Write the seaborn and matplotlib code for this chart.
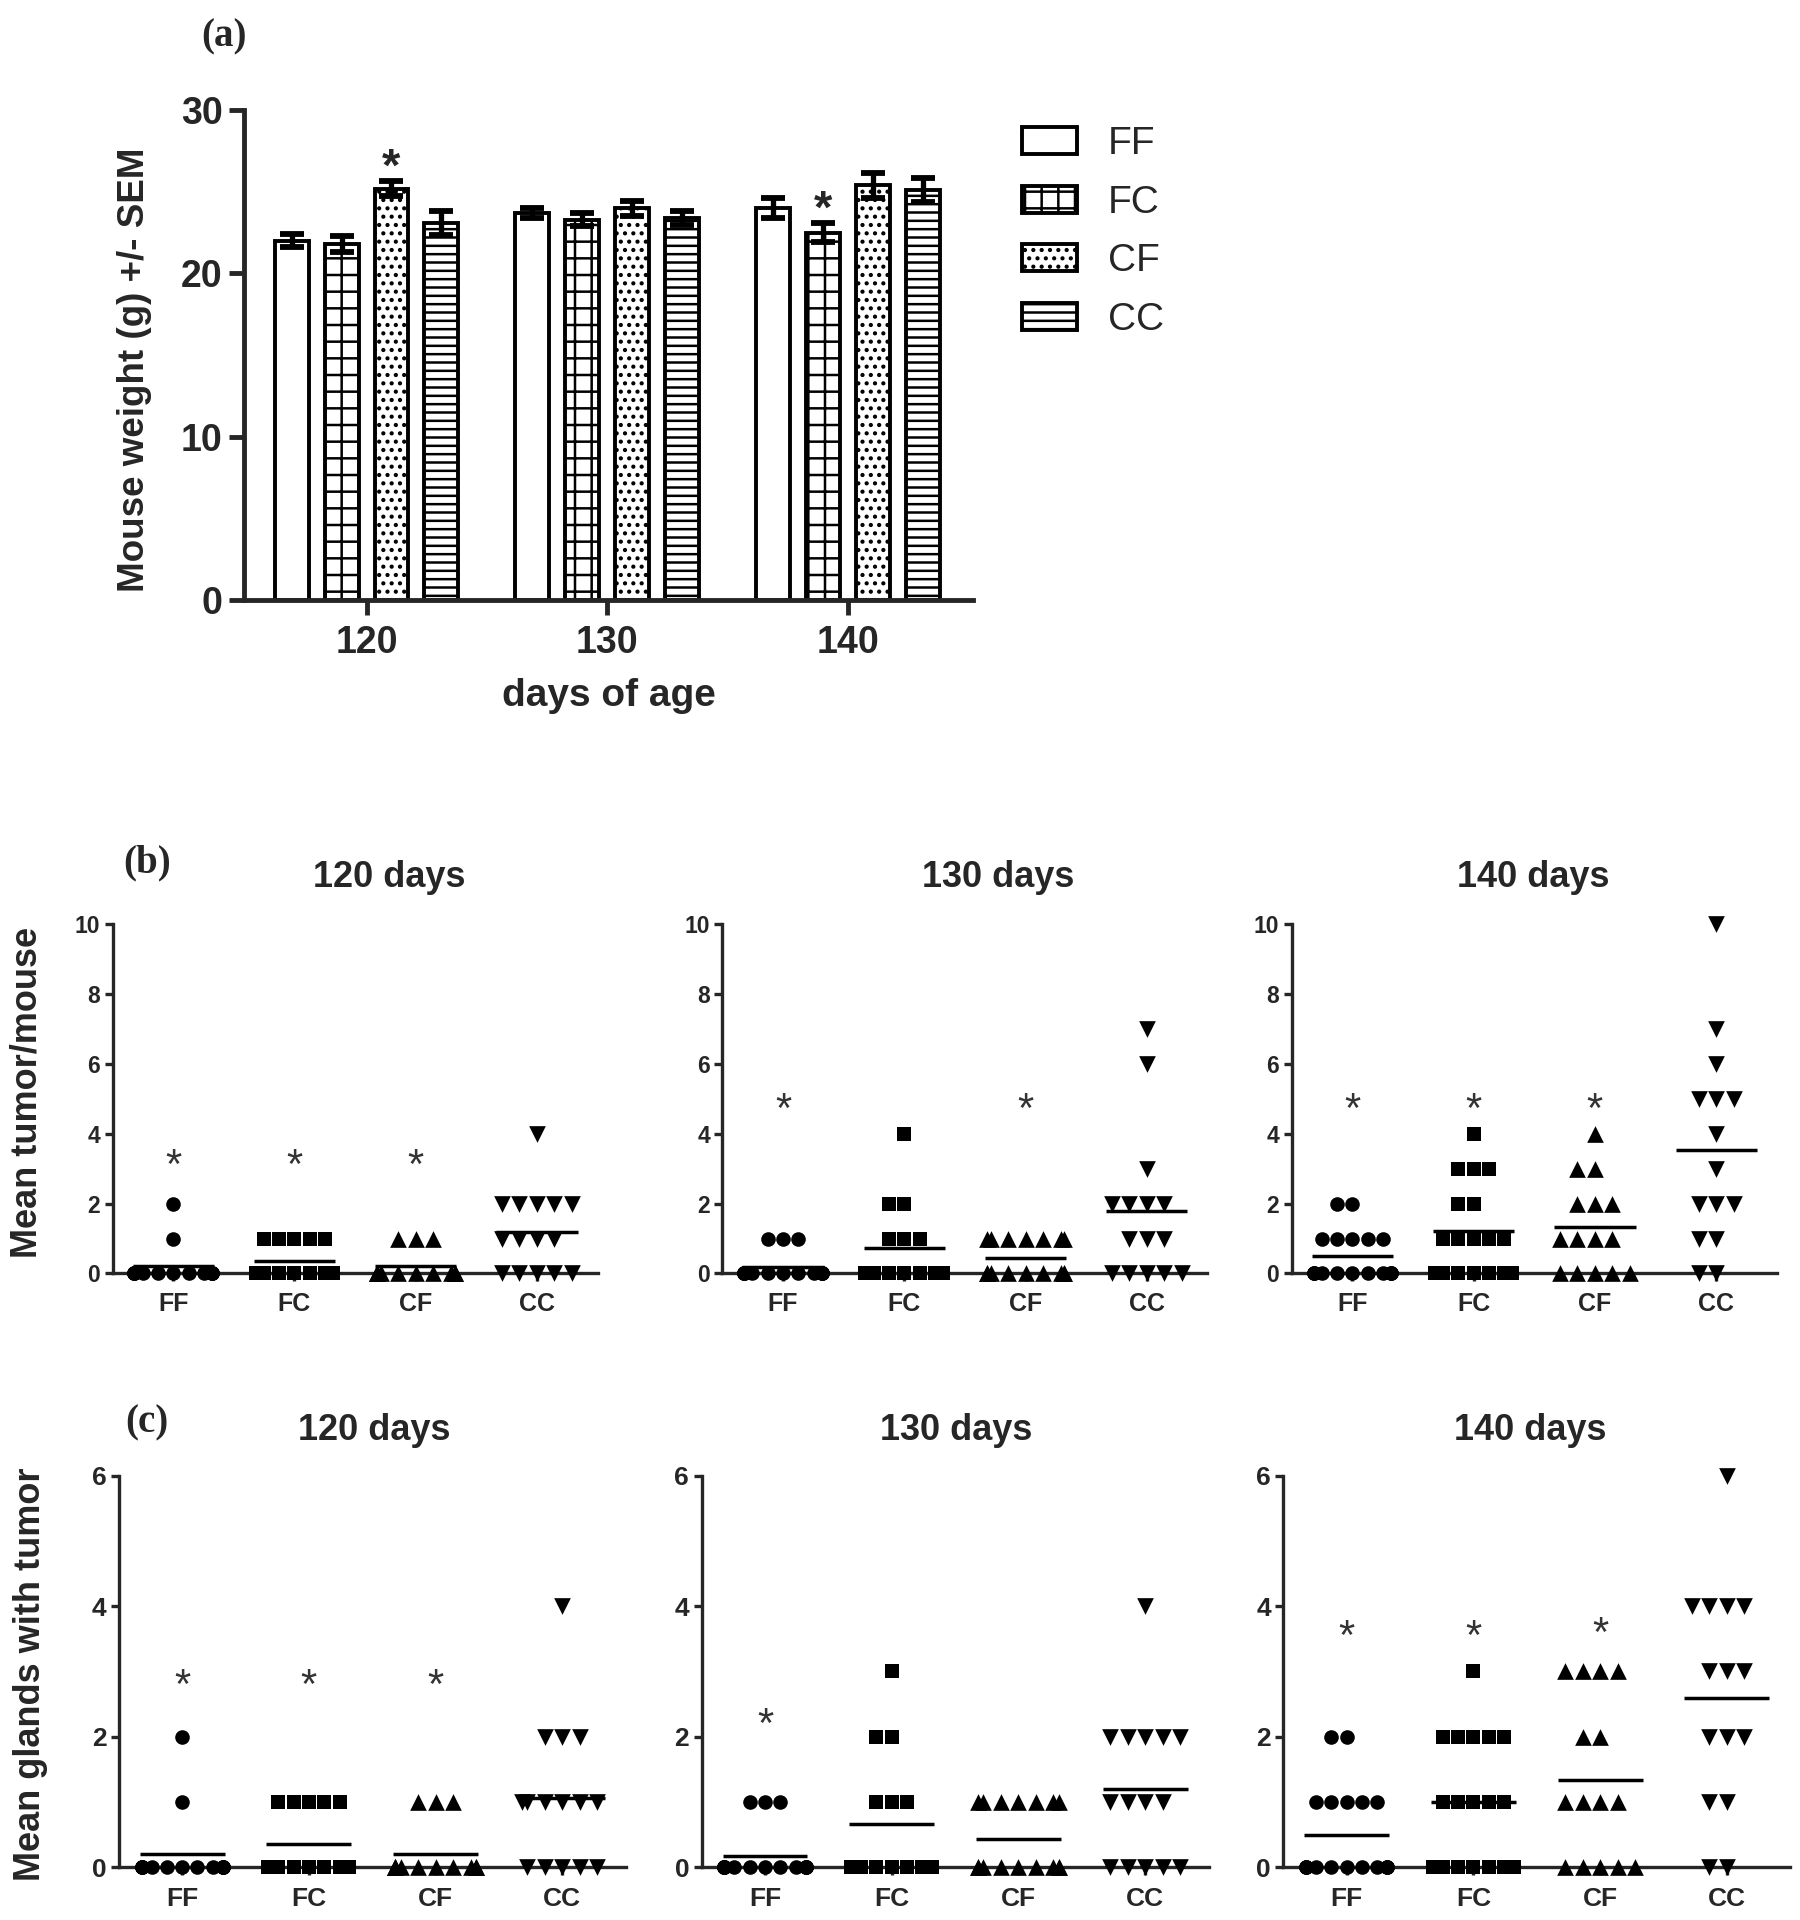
import numpy as np
import pandas as pd
import matplotlib
matplotlib.use("Agg")
import matplotlib.pyplot as plt
from matplotlib.patches import Patch
import seaborn as sns

# ---------------- data ----------------
groups = ["FF", "FC", "CF", "CC"]
days = ["120", "130", "140"]
day_titles = ["120 days", "130 days", "140 days"]

# panel (a): mean mouse weight (g) and SEM, per group
weight_120 = [22.0, 21.8, 25.2, 23.1]
weight_130 = [23.7, 23.3, 24.0, 23.4]
weight_140 = [24.0, 22.5, 25.4, 25.1]
sem_120 = [0.4, 0.5, 0.45, 0.75]
sem_130 = [0.3, 0.4, 0.45, 0.45]
sem_140 = [0.6, 0.6, 0.75, 0.75]
weight_sig = [("120", "CF"), ("140", "FC")]

# panel (b): tumors per mouse -> {value: number of mice}
tumor_120 = {"FF": {0: 13, 1: 1, 2: 1}, "FC": {0: 9, 1: 5},
             "CF": {0: 12, 1: 3}, "CC": {0: 5, 1: 4, 2: 5, 4: 1}}
tumor_130 = {"FF": {0: 14, 1: 3}, "FC": {0: 9, 1: 3, 2: 2, 4: 1},
             "CF": {0: 9, 1: 7}, "CC": {0: 5, 1: 3, 2: 4, 3: 1, 6: 1, 7: 1}}
tumor_140 = {"FF": {0: 11, 1: 5, 2: 2}, "FC": {0: 7, 1: 5, 2: 2, 3: 3, 4: 1},
             "CF": {0: 5, 1: 4, 2: 3, 3: 2, 4: 1},
             "CC": {0: 2, 1: 2, 2: 3, 3: 1, 4: 1, 5: 3, 6: 1, 7: 1, 10: 1}}

# panel (c): glands with tumor -> {value: number of mice}
gland_120 = {"FF": {0: 13, 1: 1, 2: 1}, "FC": {0: 9, 1: 5},
             "CF": {0: 12, 1: 3}, "CC": {0: 5, 1: 6, 2: 3, 4: 1}}
gland_130 = {"FF": {0: 14, 1: 3}, "FC": {0: 9, 1: 3, 2: 2, 3: 1},
             "CF": {0: 9, 1: 7}, "CC": {0: 5, 1: 4, 2: 5, 4: 1}}
gland_140 = {"FF": {0: 11, 1: 5, 2: 2}, "FC": {0: 7, 1: 5, 2: 5, 3: 1},
             "CF": {0: 5, 1: 4, 2: 2, 3: 4}, "CC": {0: 2, 1: 2, 2: 3, 3: 3, 4: 4, 6: 1}}

# significance asterisk levels
star_tumor = [{"FF": 3.4, "FC": 3.4, "CF": 3.4}, {"FF": 5.0, "CF": 5.0},
              {"FF": 5.0, "FC": 5.0, "CF": 5.0}]
star_gland = [{"FF": 2.95, "FC": 2.95, "CF": 2.95}, {"FF": 2.35},
              {"FF": 3.7, "FC": 3.7, "CF": 3.75}]

# ---------------- style ----------------
sns.set_style("ticks")
plt.rcParams["font.family"] = ["Liberation Sans", "DejaVu Sans"]
plt.rcParams["hatch.linewidth"] = 1.8
NARROW = ["Liberation Sans Narrow", "Liberation Sans", "DejaVu Sans"]
SERIF = ["Liberation Serif", "DejaVu Serif"]

fig = plt.figure(figsize=(18, 19.2), dpi=100)
W, H = 1470.0, 1568.0


def fx(x):
    return x / W


def fy(y):
    return 1 - y / H


def box(l, r, t, b):
    return [fx(l), fy(b), fx(r) - fx(l), fy(t) - fy(b)]


# ---------------- panel (a) ----------------
means_a = {"120": weight_120, "130": weight_130, "140": weight_140}
sems_a = {"120": sem_120, "130": sem_130, "140": sem_140}
rows = []
for d in days:
    for g, m, s in zip(groups, means_a[d], sems_a[d]):
        rows.append((d, g, m, s))
dfA = pd.DataFrame(rows, columns=["day", "group", "weight", "err"])

axA = fig.add_axes(box(199, 795, 90, 490))
sns.barplot(data=dfA, x="day", y="weight", hue="group", order=days, hue_order=groups,
            palette={g: "white" for g in groups}, saturation=1, edgecolor="black",
            linewidth=2.8, width=0.83, gap=0.32, errorbar=None, legend=False,
            ax=axA, zorder=2)

hatches = {"FF": "", "FC": "+", "CF": "..", "CC": "--"}
conts = list(axA.containers)
offs = []
for c in conts:
    cx = np.array([p.get_x() + p.get_width() / 2 for p in c.patches])
    offs.append(np.mean(cx - np.round(cx)))
conts = [c for _, c in sorted(zip(offs, conts), key=lambda t: t[0])]
bar_pos = {}
for g, c in zip(groups, conts):
    for p in c.patches:
        p.set_hatch(hatches[g])
        cx = p.get_x() + p.get_width() / 2
        d = days[int(round(cx))]
        bar_pos[(d, g)] = cx
for (d, g), cx in bar_pos.items():
    r = dfA[(dfA["day"] == d) & (dfA["group"] == g)].iloc[0]
    axA.errorbar([cx], [r["weight"]], yerr=[r["err"]], fmt="none", ecolor="black",
                 elinewidth=3.8, capsize=8.5, capthick=4.2, zorder=3)
A_STAR = 34
for d, g in weight_sig:
    r = dfA[(dfA["day"] == d) & (dfA["group"] == g)].iloc[0]
    axA.annotate("*", xy=(bar_pos[(d, g)], r["weight"] + r["err"] + 1.65),
                 xytext=(0, -0.56 * A_STAR), textcoords="offset points",
                 ha="center", va="baseline", fontsize=A_STAR, fontweight="bold",
                 annotation_clip=False)

axA.set_ylim(0, 30)
axA.set_xlim(-0.51, 2.52)
axA.set_yticks([0, 10, 20, 30], labels=["0", "10", "20", "30"], fontsize=27,
               fontweight="bold", family=NARROW)
axA.set_xticks([0, 1, 2], labels=days, fontsize=27, fontweight="bold")
axA.set_xlabel("")
axA.set_ylabel("")
sns.despine(ax=axA)
for sp in ["left", "bottom"]:
    axA.spines[sp].set_linewidth(3.5)
axA.tick_params(axis="y", width=3.5, length=11, pad=4)
axA.tick_params(axis="x", width=3.5, length=11, pad=7)

leg_handles = [Patch(facecolor="white", edgecolor="black", hatch=hatches[g], linewidth=2.8)
               for g in groups]
axA.legend(leg_handles, groups, loc="upper left", bbox_to_anchor=(fx(835), fy(103)),
           bbox_transform=fig.transFigure, frameon=False, fontsize=28,
           handlelength=1.41, handleheight=0.69, handletextpad=0.78,
           labelspacing=0.58, borderaxespad=0, borderpad=0)

fig.text(fx(110), fy(302), "Mouse weight (g) +/- SEM", rotation=90, ha="center",
         va="center", fontsize=26.5, fontweight="bold")
fig.text(fx(497), fy(568), "days of age", ha="center", va="center",
         fontsize=28, fontweight="bold")
fig.text(fx(183), fy(30), "(a)", ha="center", va="center", fontsize=28,
         fontweight="bold", family=SERIF)

# ---------------- panels (b) and (c) ----------------
markers = {"FF": "o", "FC": "s", "CF": "^", "CC": "v"}
msize = {"FF": 10.5, "FC": 10.5, "CF": 12, "CC": 12}
STAR_FS = 30
SPACING = 1.25  # distance between group columns (swarm width = 0.8 / SPACING of it)


def dot_panel(ax, counts, ymax, yticks, stars, fs_y, fs_x, xpad):
    rows = []
    for i, g in enumerate(groups):
        for v, n in counts[g].items():
            rows += [(g, i * SPACING, v)] * n
    df = pd.DataFrame(rows, columns=["group", "pos", "value"])
    for g in groups:
        sns.swarmplot(data=df[df["group"] == g], x="pos", y="value", native_scale=True,
                      marker=markers[g], size=msize[g], color="black", linewidth=0,
                      warn_thresh=1.0, ax=ax, zorder=3)
    for col in ax.collections:
        col.set_clip_on(False)
    stats = df.groupby("group").agg(pos=("pos", "first"), mean=("value", "mean"))
    for g in groups:
        p, m = stats.loc[g, "pos"], stats.loc[g, "mean"]
        ax.hlines(m, p - 0.335 * SPACING, p + 0.335 * SPACING, color="black",
                  lw=2.5, zorder=4)
    for g, yv in stars.items():
        ax.annotate("*", xy=(stats.loc[g, "pos"], yv), xytext=(0, -0.56 * STAR_FS),
                    textcoords="offset points", ha="center", va="baseline",
                    fontsize=STAR_FS, color="#333333", annotation_clip=False)
    ax.set_ylim(0, ymax)
    ax.set_xlim(-0.5 * SPACING, 3.5 * SPACING)
    ax.set_yticks(yticks, labels=[str(v) for v in yticks], fontsize=fs_y,
                  fontweight="bold", family=NARROW)
    ax.set_xticks(list(stats.loc[groups, "pos"]), labels=groups, fontsize=fs_x,
                  fontweight="bold", family=NARROW)
    ax.set_xlabel("")
    ax.set_ylabel("")
    sns.despine(ax=ax)
    for sp in ["left", "bottom"]:
        ax.spines[sp].set_linewidth(2.4)
    ax.tick_params(axis="y", width=2.4, length=6, pad=3)
    ax.tick_params(axis="x", width=2.4, length=6, pad=xpad)


tumor_all = [tumor_120, tumor_130, tumor_140]
gland_all = [gland_120, gland_130, gland_140]

b_left = [92, 590, 1055]
b_w = 396
b_titles_x = [318, 815, 1252]
for k in range(3):
    ax = fig.add_axes(box(b_left[k], b_left[k] + b_w, 755, 1040))
    dot_panel(ax, tumor_all[k], 10, [0, 2, 4, 6, 8, 10], star_tumor[k], 16.5, 18, 7)
    fig.text(fx(b_titles_x[k]), fy(717), day_titles[k], ha="center", va="center",
             fontsize=26, fontweight="bold")

c_left = [97, 573, 1048]
c_w = 414
c_titles_x = [306, 781, 1250]
for k in range(3):
    ax = fig.add_axes(box(c_left[k], c_left[k] + c_w, 1205, 1525))
    dot_panel(ax, gland_all[k], 6, [0, 2, 4, 6], star_gland[k], 19, 19, 8)
    fig.text(fx(c_titles_x[k]), fy(1168), day_titles[k], ha="center", va="center",
             fontsize=26, fontweight="bold")

fig.text(fx(22), fy(892), "Mean tumor/mouse", rotation=90, ha="center", va="center",
         fontsize=26, fontweight="bold")
fig.text(fx(25), fy(1367), "Mean glands with tumor", rotation=90, ha="center",
         va="center", fontsize=26, fontweight="bold")
fig.text(fx(120), fy(705), "(b)", ha="center", va="center", fontsize=28,
         fontweight="bold", family=SERIF)
fig.text(fx(120), fy(1162), "(c)", ha="center", va="center", fontsize=28,
         fontweight="bold", family=SERIF)

fig.savefig("out.png", dpi=100, facecolor="white")
